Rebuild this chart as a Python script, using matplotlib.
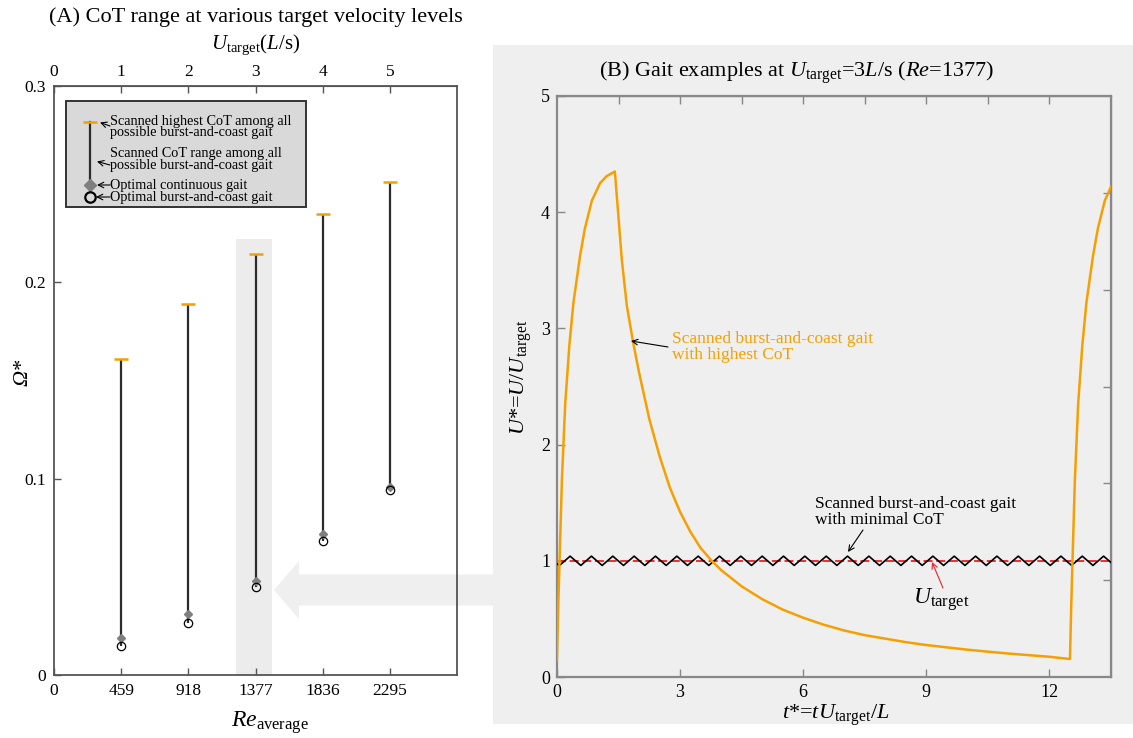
import matplotlib
matplotlib.use("Agg")
import matplotlib.pyplot as plt
import matplotlib.patches as mpatches

plt.rcParams['font.family'] = 'serif'
plt.rcParams['font.serif'] = ['Liberation Serif', 'DejaVu Serif']
plt.rcParams['mathtext.fontset'] = 'custom'
plt.rcParams['mathtext.rm'] = 'Liberation Serif'
plt.rcParams['mathtext.it'] = 'Liberation Serif:italic'
plt.rcParams['mathtext.bf'] = 'Liberation Serif:bold'

# ---- panel A data: CoT range per target velocity ----
re_levels = [459, 918, 1377, 1836, 2295]
u_levels = [1, 2, 3, 4, 5]
cot_highest = [0.161, 0.189, 0.2145, 0.235, 0.251]
cot_continuous = [0.019, 0.031, 0.048, 0.072, 0.096]
cot_optimal_bc = [0.0148, 0.0265, 0.045, 0.068, 0.094]

# ---- panel B data: velocity histories at U_target = 3 L/s ----
t_highest = [0.0, 0.03, 0.07, 0.12, 0.2, 0.3, 0.4, 0.56, 0.68, 0.85, 1.05, 1.21, 1.41,
             1.5, 1.58, 1.7, 1.85, 2.0, 2.25, 2.5, 2.75, 3.0, 3.25, 3.5, 3.77, 4.0,
             4.5, 5.0, 5.5, 6.0, 6.5, 7.0, 7.5, 8.0, 8.5, 9.0, 9.5, 10.0, 10.5, 11.0,
             11.5, 12.0, 12.5, 12.53, 12.57, 12.62, 12.7, 12.8, 12.9, 13.06, 13.18,
             13.35, 13.5]
u_highest = [0.15, 0.6, 1.1, 1.7, 2.35, 2.85, 3.22, 3.62, 3.86, 4.1, 4.25, 4.31, 4.35,
             3.95, 3.59, 3.2, 2.89, 2.62, 2.22, 1.9, 1.63, 1.42, 1.25, 1.11, 1.0, 0.92,
             0.78, 0.67, 0.58, 0.51, 0.45, 0.40, 0.36, 0.33, 0.30, 0.275, 0.255, 0.235,
             0.218, 0.202, 0.188, 0.174, 0.155, 0.6, 1.1, 1.7, 2.35, 2.85, 3.22, 3.62,
             3.86, 4.1, 4.22]

zig_peak_t = [0.32, 0.84, 1.36, 1.88, 2.40, 2.92, 3.44, 3.96, 4.48, 5.00, 5.52, 6.04,
              6.56, 7.08, 7.60, 8.12, 8.64, 9.16, 9.68, 10.20, 10.72, 11.24, 11.76,
              12.28, 12.80, 13.32]
zig_trough_t = [0.06, 0.58, 1.10, 1.62, 2.14, 2.66, 3.18, 3.70, 4.22, 4.74, 5.26, 5.78,
                6.30, 6.82, 7.34, 7.86, 8.38, 8.90, 9.42, 9.94, 10.46, 10.98, 11.50,
                12.02, 12.54, 13.06]
zig_peak_u = 1.04
zig_trough_u = 0.96
zig_start = (0.0, 0.975)
zig_end = (13.5, 0.985)
u_target = 1.0

ORANGE = '#f5a000'
GREY_BG = '#efefef'
W, H = 1133, 738


def px(x, y):
    # pixel position -> figure fraction
    return (x / W, 1 - y / H)


def arrow(head, tail, color='black'):
    fig.add_artist(plt.Annotation('', xy=px(*head), xytext=px(*tail),
                                  xycoords='figure fraction',
                                  textcoords='figure fraction',
                                  arrowprops=dict(arrowstyle='->', lw=0.8, color=color,
                                                  shrinkA=0, shrinkB=0),
                                  zorder=5))


fig = plt.figure(figsize=(W / 100, H / 100), dpi=100)

# grey background of panel B and the pointer arrow
fig.patches.append(mpatches.Rectangle(px(493, 724), 1 - 493 / W, (724 - 45) / H,
                                      transform=fig.transFigure, color=GREY_BG,
                                      zorder=-2, lw=0))
x0, y0 = px(494, 590)
fig.patches.append(mpatches.FancyArrow(x0, y0, -(494 - 274) / W, 0,
                                       width=31 / H, head_width=58 / H,
                                       head_length=25 / W,
                                       length_includes_head=True,
                                       transform=fig.transFigure, color=GREY_BG,
                                       lw=0, zorder=-1))

# ================= panel A =================
axA = fig.add_axes([54 / W, 1 - 675 / H, 403 / W, 589 / H])
axA.set_facecolor('none')
axA.set_xlim(0, 2754)
axA.set_ylim(0, 0.3)

axA.add_patch(mpatches.Rectangle((1247, 0), 246, 0.222, color='#ececec', lw=0, zorder=0))

axA.vlines(re_levels, cot_optimal_bc, cot_highest, color='#2b2b2b', lw=1.6, zorder=2)
axA.plot(re_levels, cot_highest, ls='none', marker='_', ms=10, mew=1.8,
         color=ORANGE, zorder=3)
axA.plot(re_levels, cot_continuous, ls='none', marker='D', ms=4.5,
         color='#7f7f7f', zorder=3)
axA.plot(re_levels, cot_optimal_bc, ls='none', marker='o', ms=6, mfc='none',
         mec='black', mew=0.9, zorder=3)

axA.set_xticks([0] + re_levels)
axA.set_xticklabels(['0'] + [str(r) for r in re_levels])
axA.set_yticks([0, 0.1, 0.2, 0.3])
axA.set_yticklabels(['0', '0.1', '0.2', '0.3'])
axA.tick_params(direction='in', length=5, width=1, color='#555555',
                labelsize=12.5, pad=6)
for s in axA.spines.values():
    s.set_color('#555555')
    s.set_linewidth(1.3)

topA = axA.secondary_xaxis('top', functions=(lambda r: r / 459, lambda u: u * 459))
topA.set_xticks([0] + u_levels)
topA.set_xticklabels(['0'] + [str(u) for u in u_levels])
topA.tick_params(direction='in', length=5, width=1, color='#555555',
                 labelsize=12.5, pad=4)
topA.spines['top'].set_color('#555555')

# custom legend box
lx0, ly0 = px(66, 207)
fig.patches.append(mpatches.Rectangle((lx0, ly0), (306 - 66) / W, (207 - 101) / H,
                                      transform=fig.transFigure, facecolor='#d9d9d9',
                                      edgecolor='#333333', lw=1.4, zorder=1))
lxa, lya = px(90, 122)
_, lyd = px(90, 185)
_, lyb = px(90, 197)
fig.lines.append(plt.Line2D([lxa, lxa], [lya, lyd], transform=fig.transFigure,
                            color='#2b2b2b', lw=1.6, zorder=2))
fig.lines.append(plt.Line2D([lxa], [lya], transform=fig.transFigure, marker='_',
                            ms=10, mew=1.8, color=ORANGE, zorder=3))
fig.lines.append(plt.Line2D([lxa], [lyd], transform=fig.transFigure, marker='D',
                            ms=6.5, color='#7f7f7f', zorder=3))
fig.lines.append(plt.Line2D([lxa], [lyb], transform=fig.transFigure, marker='o',
                            ms=7.5, mfc='none', mec='black', mew=1.6, zorder=3))

legend_lines = [
    ("Scanned highest CoT among all", 121),
    ("possible burst-and-coast gait", 132.5),
    ("Scanned CoT range among all", 154),
    ("possible burst-and-coast gait", 165.5),
    ("Optimal continuous gait", 185),
    ("Optimal burst-and-coast gait", 197.5),
]
for label, ty in legend_lines:
    fig.text(*px(110, ty), label, fontsize=10.3, va='center', ha='left', zorder=4)
arrow((100, 122.5), (110, 126))
arrow((97, 161.5), (110, 165))
arrow((97, 185), (110, 185))
arrow((96, 197), (110, 197))

fig.text(*px(256, 17), "(A) CoT range at various target velocity levels",
         fontsize=16, ha='center', va='center')
fig.text(*px(256, 45), r"$U_{\mathrm{target}}(L/\mathrm{s})$",
         fontsize=15, ha='center', va='center')
fig.text(*px(231, 727), r"$Re_{\mathrm{average}}$", fontsize=17,
         ha='left', va='baseline')
fig.text(*px(23, 372), "Ω*", fontsize=16, style='italic', ha='center',
         va='center', rotation=90)

# ================= panel B =================
axB = fig.add_axes([557 / W, 1 - 677 / H, 554 / W, 581 / H])
axB.set_facecolor(GREY_BG)
axB.set_xlim(0, 13.5)
axB.set_ylim(0, 5)

zig = sorted([zig_start, zig_end]
             + [(t, zig_peak_u) for t in zig_peak_t]
             + [(t, zig_trough_u) for t in zig_trough_t])
axB.axhline(u_target, color='#e8222a', lw=1.3, ls=(0, (5, 2)), zorder=2)
axB.plot([p[0] for p in zig], [p[1] for p in zig], color='black', lw=1.2, zorder=3)
axB.plot(t_highest, u_highest, color=ORANGE, lw=1.8, zorder=4)

axB.set_xticks([0, 3, 6, 9, 12])
axB.set_yticks([0, 1, 2, 3, 4, 5])
axB.tick_params(direction='in', length=6, width=1, color='#888888',
                labelsize=13, pad=5)
for s in axB.spines.values():
    s.set_color('#888888')
    s.set_linewidth(1.6)

topB = axB.secondary_xaxis('top')
topB.set_xticks([1.5, 3, 4.5, 6, 7.5, 9, 10.5, 12])
topB.tick_params(direction='in', length=6, width=1, color='#888888', labelsize=0)
topB.set_xticklabels([])
rightB = axB.secondary_yaxis('right')
rightB.set_yticks([5 / 6, 10 / 6, 15 / 6, 20 / 6, 25 / 6])
rightB.tick_params(direction='in', length=6, width=1, color='#888888')
rightB.set_yticklabels([])

fig.text(*px(797, 73), r"(B) Gait examples at $U_{\mathrm{target}}$=3$L$/s ($Re$=1377)",
         fontsize=16, ha='center', va='center')
fig.text(*px(836, 719), r"$t$*=$tU_{\mathrm{target}}$/$L$", fontsize=16,
         ha='center', va='baseline')
fig.text(*px(521, 377), r"$U$*=$U$/$U_{\mathrm{target}}$", fontsize=16,
         ha='center', va='center', rotation=90)

fig.text(*px(672, 347), "Scanned burst-and-coast gait\nwith highest CoT",
         color=ORANGE, fontsize=12.5, ha='left', va='center', linespacing=0.95)
arrow((631, 341), (668, 347))
fig.text(*px(815, 512), "Scanned burst-and-coast gait\nwith minimal CoT",
         color='black', fontsize=12.5, ha='left', va='center', linespacing=0.95)
arrow((848, 552), (863, 530))
fig.text(*px(913, 600), r"$U_{\mathrm{target}}$", fontsize=17, ha='left', va='center')
arrow((932, 562), (943, 588), color='#e8222a')

fig.savefig('out.png', dpi=100)
